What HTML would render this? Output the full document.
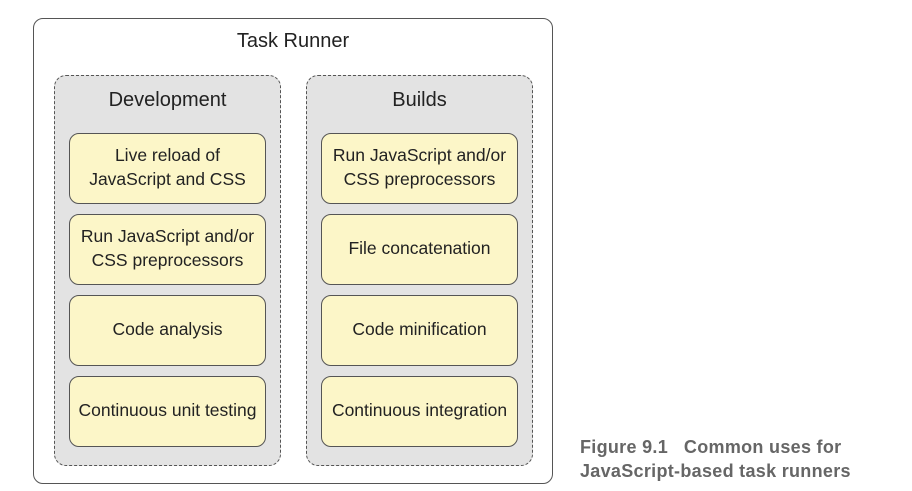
<!DOCTYPE html>
<html><head><style>
body{margin:0;width:912px;height:491px;background:#fff;font-family:"Liberation Sans",sans-serif;position:relative;overflow:hidden}
div{position:absolute;box-sizing:border-box}
.outer{left:33px;top:18px;width:520px;height:466px;border:1.5px solid #555;border-radius:10px}
.panel{top:75px;width:227px;height:391px;border:1.5px dashed #555;border-radius:12px;background:#e3e3e3}
.box{width:197px;height:71px;border:1.5px solid #555;border-radius:10px;background:#fcf6c8;display:flex;align-items:center;justify-content:center;text-align:center;font-size:17.5px;line-height:24px;color:#222;padding-bottom:3px}
.t{font-size:20px;color:#222;text-align:center}
.cap{left:580px;font-weight:bold;font-size:18px;color:#666;white-space:nowrap;letter-spacing:0.3px}
</style></head><body>
<div class="outer"></div>
<div class="t" style="left:33px;width:520px;top:30px">Task Runner</div>
<div class="panel" style="left:54px"></div>
<div class="panel" style="left:306px"></div>
<div class="t" style="left:54px;width:227px;top:89px">Development</div>
<div class="t" style="left:306px;width:227px;top:89px">Builds</div>
<div class="box" style="left:69px;top:133px">Live reload of<br>JavaScript and CSS</div>
<div class="box" style="left:69px;top:214px">Run JavaScript and/or<br>CSS preprocessors</div>
<div class="box" style="left:69px;top:295px">Code analysis</div>
<div class="box" style="left:69px;top:376px">Continuous unit testing</div>
<div class="box" style="left:321px;top:133px">Run JavaScript and/or<br>CSS preprocessors</div>
<div class="box" style="left:321px;top:214px">File concatenation</div>
<div class="box" style="left:321px;top:295px">Code minification</div>
<div class="box" style="left:321px;top:376px">Continuous integration</div>
<div class="cap" style="top:437px">Figure 9.1&nbsp;&nbsp;&nbsp;Common uses for</div>
<div class="cap" style="top:461px">JavaScript-based task runners</div>
</body></html>
